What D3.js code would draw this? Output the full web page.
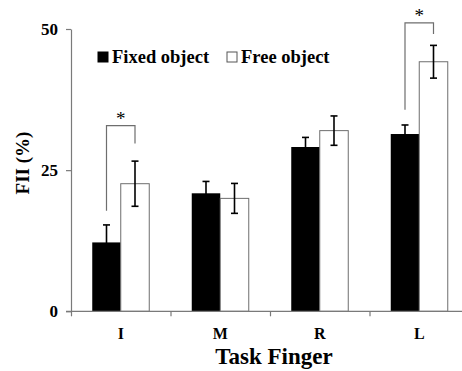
<!DOCTYPE html>
<html lang="en">
<head>
  <meta charset="UTF-8">
  <title>FII by Task Finger</title>
  <style>
    body { margin: 0; background: #fff; }
    svg { display: block; }
    text { font-family: "Liberation Serif", "DejaVu Serif", serif; font-weight: bold; fill: #000; }
    .axis path, .axis line { stroke: #7a7a7a; stroke-width: 1.2; }
  </style>
</head>
<body>
  <div id="chart"></div>
  <script src="https://d3js.org/d3.v7.min.js"></script>
  <script>
    const categories = ["I", "M", "R", "L"];
    const fixedVals = [12.2, 20.9, 29.1, 31.4];
    const fixedErr = [3.1, 2.1, 1.7, 1.6];
    const freeVals = [22.6, 20.0, 32.0, 44.2];
    const freeErr = [4.0, 2.65, 2.6, 2.9];
    const yTicks = [0, 25, 50];
    // significance brackets: left foot, right foot, top (in FII units)
    const sigCats = ["I", "L"];
    const sigLeft = [17.8, 35.7];
    const sigRight = [29.7, 49.1];
    const sigTop = [32.9, 51.1];

    const width = 462, height = 371;
    const svg = d3.select('#chart').append('svg')
      .attr('width', width).attr('height', height);

    const x0 = 71, x1 = 469;
    const xScale = d3.scaleBand().domain(categories).range([x0, x1]).padding(0);
    const xEdge = d3.scaleLinear().domain([0, 4]).range([x0, x1]);
    const yScale = d3.scaleLinear().domain([0, 50]).range([311.3, 29]);
    const barW = 28.5;

    const rows = categories.map((c, i) => ({
      cat: c, fixed: fixedVals[i], fErr: fixedErr[i], free: freeVals[i], frErr: freeErr[i]
    }));

    // bars
    svg.selectAll('.fixed').data(rows).enter().append('rect')
      .attr('class', 'fixed')
      .attr('x', d => xScale(d.cat) + xScale.bandwidth() / 2 - barW)
      .attr('y', d => yScale(d.fixed))
      .attr('width', barW)
      .attr('height', d => yScale(0) - yScale(d.fixed))
      .attr('fill', '#000');

    svg.selectAll('.free').data(rows).enter().append('rect')
      .attr('class', 'free')
      .attr('x', d => xScale(d.cat) + xScale.bandwidth() / 2)
      .attr('y', d => yScale(d.free))
      .attr('width', barW)
      .attr('height', d => yScale(0) - yScale(d.free))
      .attr('fill', '#fff')
      .attr('stroke', '#6e6e6e')
      .attr('stroke-width', 1);

    // error bars
    const errs = [];
    rows.forEach(d => {
      errs.push({ cx: xScale(d.cat) + xScale.bandwidth() / 2 - barW / 2, v: d.fixed, e: d.fErr });
      errs.push({ cx: xScale(d.cat) + xScale.bandwidth() / 2 + barW / 2, v: d.free, e: d.frErr });
    });
    const eg = svg.selectAll('.err').data(errs).enter().append('g')
      .attr('class', 'err').attr('stroke', '#000').attr('stroke-width', 1.6);
    eg.append('line')
      .attr('x1', d => d.cx).attr('x2', d => d.cx)
      .attr('y1', d => yScale(d.v - d.e)).attr('y2', d => yScale(d.v + d.e));
    eg.append('line')
      .attr('x1', d => d.cx - 3.5).attr('x2', d => d.cx + 3.5)
      .attr('y1', d => yScale(d.v + d.e)).attr('y2', d => yScale(d.v + d.e));
    eg.append('line')
      .attr('x1', d => d.cx - 3.5).attr('x2', d => d.cx + 3.5)
      .attr('y1', d => yScale(d.v - d.e)).attr('y2', d => yScale(d.v - d.e));

    // axes
    svg.append('g').attr('class', 'axis')
      .attr('transform', `translate(0,${yScale(0)})`)
      .call(d3.axisBottom(xEdge).tickValues([0, 1, 2, 3, 4]).tickFormat('').tickSize(5).tickSizeOuter(0))
      .select('.domain').attr('d', `M${x0 - 5},0H${x1}`);

    const yAxis = svg.append('g').attr('class', 'axis')
      .attr('transform', `translate(${x0},0)`)
      .call(d3.axisLeft(yScale).tickValues(yTicks).tickSize(5).tickSizeOuter(0).tickPadding(8));
    yAxis.selectAll('text')
      .style('font-family', '"Liberation Serif", serif')
      .style('font-weight', 'bold')
      .style('font-size', '17px')
      .attr('fill', '#000');

    // category labels
    svg.selectAll('.cat').data(categories).enter().append('text')
      .attr('x', d => xScale(d) + xScale.bandwidth() / 2)
      .attr('y', 339)
      .attr('text-anchor', 'middle')
      .style('font-size', '16px')
      .text(d => d);

    // axis titles
    svg.append('text')
      .attr('x', 274).attr('y', 364)
      .attr('text-anchor', 'middle')
      .style('font-size', '23px')
      .text('Task Finger');

    svg.append('text')
      .attr('transform', 'translate(29,163) rotate(-90)')
      .attr('text-anchor', 'middle')
      .style('font-size', '19px')
      .text('FII (%)');

    // significance brackets
    sigCats.forEach((c, i) => {
      const lx = xScale(c) + xScale.bandwidth() / 2 - barW / 2;
      const rx = xScale(c) + xScale.bandwidth() / 2 + barW / 2;
      svg.append('path')
        .attr('d', `M${lx},${yScale(sigLeft[i])}V${yScale(sigTop[i])}H${rx}V${yScale(sigRight[i])}`)
        .attr('fill', 'none')
        .attr('stroke', '#6e6e6e')
        .attr('stroke-width', 1.2);
      svg.append('text')
        .attr('x', (lx + rx) / 2)
        .attr('y', yScale(sigTop[i]) - 1)
        .attr('text-anchor', 'middle')
        .style('font-size', '19px')
        .style('font-weight', 'normal')
        .text('*');
    });

    // legend
    const legend = [
      { label: 'Fixed object', x: 98, fill: '#000' },
      { label: 'Free object', x: 227, fill: '#fff' }
    ];
    legend.forEach(l => {
      svg.append('rect')
        .attr('x', l.x).attr('y', 52)
        .attr('width', 10).attr('height', 10)
        .attr('fill', l.fill)
        .attr('stroke', l.fill === '#000' ? '#000' : '#555')
        .attr('stroke-width', 1);
      svg.append('text')
        .attr('x', l.x + 14).attr('y', 63)
        .style('font-size', '18.5px')
        .text(l.label);
    });
  </script>
</body>
</html>
